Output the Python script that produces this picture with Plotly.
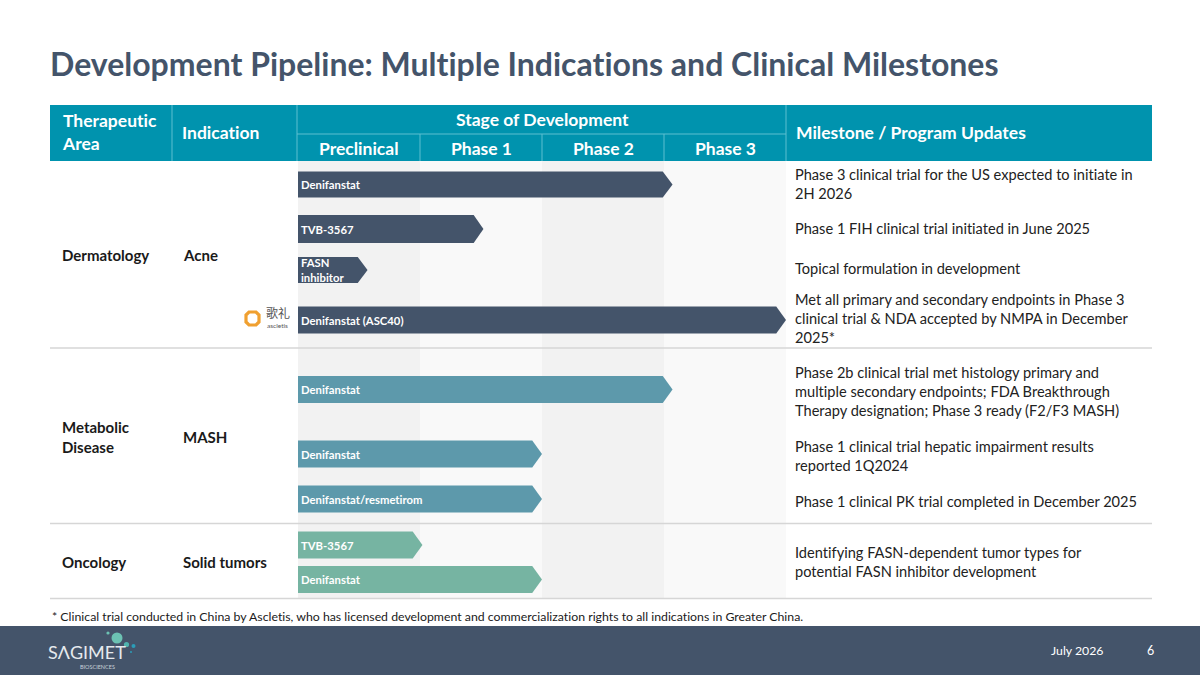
import plotly.graph_objects as go

# ---- data ----
STAGES = ["Preclinical", "Phase 1", "Phase 2", "Phase 3"]
AREAS = ["Dermatology", "Metabolic<br>Disease", "Oncology"]
INDICATIONS = ["Acne", "MASH", "Solid tumors"]
PROGRAMS = ["Denifanstat", "TVB-3567", "FASN<br>inhibitor", "Denifanstat (ASC40)",
            "Denifanstat", "Denifanstat", "Denifanstat/resmetirom",
            "TVB-3567", "Denifanstat"]
PROGRAM_AREA = [0, 0, 0, 0, 1, 1, 1, 2, 2]
# how far each program reaches, in stage units (0 = start of preclinical, 4 = end of phase 3)
PROGRESS = [3.07, 1.52, 0.57, 4.0, 3.07, 2.0, 2.0, 1.02, 2.0]
MILESTONES = [
    "Phase 3 clinical trial for the US expected to initiate in<br>2H 2026",
    "Phase 1 FIH clinical trial initiated in June 2025",
    "Topical formulation in development",
    "Met all primary and secondary endpoints in Phase 3<br>clinical trial & NDA accepted by NMPA in December<br>2025*",
    "Phase 2b clinical trial met histology primary and<br>multiple secondary endpoints; FDA Breakthrough<br>Therapy designation; Phase 3 ready (F2/F3 MASH)",
    "Phase 1 clinical trial hepatic impairment results<br>reported 1Q2024",
    "Phase 1 clinical PK trial completed in December 2025",
    "Identifying FASN-dependent tumor types for<br>potential FASN inhibitor development",
]
TITLE = "Development Pipeline: Multiple Indications and Clinical Milestones"
FOOTNOTE = ("* Clinical trial conducted in China by Ascletis, who has licensed development "
            "and commercialization rights to all indications in Greater China.")
DATE_LABEL = "July 2026"
PAGE_NO = "6"

# ---- layout (pixels on the 1200x675 slide) ----
W, H = 1200, 675
FONT = "Lato"
SLATE = "#44546A"
TEAL = "#0093AE"
TEAL_LINE = "#5CBFD0"
AREA_COLORS = ["#44546A", "#5D99AB", "#76B4A2"]
GRID_L, GRID_R = 298, 786          # stage columns span
TBL_L, TBL_R = 50, 1152
HDR_T, HDR_M, HDR_B = 105, 134, 161
BODY_B = 598.5
COL_TA, COL_IND = 172, 297
BAR_Y = [184.5, 229, 270, 320, 389.5, 454, 499, 545, 579.5]
BAR_H = [26, 28, 26, 27, 27, 27, 27, 27, 27]
MILE_Y = [184, 228, 268, 318.5, 391.3, 455.7, 501, 561.7]
AREA_Y = [255, 436.5, 562]
SEP_Y = [348, 523.5, BODY_B]
TIP = 0.08  # chevron point depth in stage units

# "x" is a pixel axis across the slide, "x2" is the stage axis over the phase columns
PX, STG = "x", "x2"

fig = go.Figure()
shapes = []
ann = []


def px_rect(x0, y0, x1, y1, color):
    shapes.append(dict(type="rect", xref=PX, yref="y", x0=x0, y0=y0, x1=x1, y1=y1,
                       fillcolor=color, line=dict(width=0), layer="below"))


def px_line(x0, y0, x1, y1, color, width=1):
    shapes.append(dict(type="line", xref=PX, yref="y", x0=x0, y0=y0, x1=x1, y1=y1,
                       line=dict(color=color, width=width), layer="above"))


def text(x, y, s, size=14, color="#1a1a1a", bold=False, xanchor="left", xref=PX, **kw):
    if bold:
        s = "<b>" + s + "</b>"
    ann.append(dict(x=x, y=y, xref=xref, yref="y", text=s, showarrow=False,
                    xanchor=xanchor, yanchor="middle", align="left",
                    font=dict(family=FONT, size=size, color=color), **kw))


# stage column shading in the body
for i, st in enumerate(STAGES):
    shapes.append(dict(type="rect", xref=STG, yref="y", x0=i, x1=i + 1, y0=HDR_B, y1=BODY_B,
                       fillcolor="#F2F2F2" if i % 2 == 0 else "#F9F9F9",
                       line=dict(width=0), layer="below"))

# header band
px_rect(TBL_L, HDR_T, TBL_R, HDR_B, TEAL)
px_line(COL_TA, HDR_T, COL_TA, HDR_B, TEAL_LINE)
px_line(COL_IND, HDR_T, COL_IND, HDR_B, TEAL_LINE)
px_line(GRID_R, HDR_T, GRID_R, HDR_B, TEAL_LINE)
px_line(COL_IND, HDR_M, GRID_R, HDR_M, TEAL_LINE)
for i in range(1, len(STAGES)):
    shapes.append(dict(type="line", xref=STG, yref="y", x0=i, x1=i, y0=HDR_M, y1=HDR_B,
                       line=dict(color=TEAL_LINE, width=1)))
for i, st in enumerate(STAGES):
    text(i + 0.5, (HDR_M + HDR_B) / 2 + 0.5, st, size=17.5, color="white", bold=True,
         xanchor="center", xref=STG)
text(60, 132, "Therapeutic<br>Area", size=17.5, color="white", bold=True)
text(180, 132, "Indication", size=17.5, color="white", bold=True)
text((GRID_L + GRID_R) / 2, 119.5, "Stage of Development", size=17.5, color="white",
     bold=True, xanchor="center")
text(794, 132, "Milestone / Program Updates", size=17.5, color="white", bold=True)

# row separators
for y in SEP_Y:
    px_line(TBL_L, y, TBL_R, y, "#D6D6D6", 1.5)

# area / indication labels
for a, ind, y in zip(AREAS, INDICATIONS, AREA_Y):
    text(60, y, a, size=15, bold=True)
    text(181, y, ind, size=15, bold=True)

# pipeline chevrons
for name, area, end, yc, h in zip(PROGRAMS, PROGRAM_AREA, PROGRESS, BAR_Y, BAR_H):
    top, bot = yc - h / 2, yc + h / 2
    fig.add_trace(go.Scatter(
        x=[0, end - TIP, end, end - TIP, 0, 0],
        y=[top, top, yc, bot, bot, top],
        xaxis=STG, yaxis="y", mode="lines", fill="toself",
        fillcolor=AREA_COLORS[area], line=dict(width=0),
        hoverinfo="skip", showlegend=False))
    ann.append(dict(x=0, y=yc, xref=STG, yref="y", text="<b>" + name + "</b>",
                    showarrow=False, xanchor="left", yanchor="middle", align="left",
                    xshift=1, font=dict(family=FONT, size=11.3, color="white")))

# milestone notes
for m, y in zip(MILESTONES, MILE_Y):
    text(793, y, m, size=14.6, color="#222222")

# ascletis partner mark
shapes.append(dict(type="path", xref=PX, yref="y",
                   path="M 249 312 L 256 312 L 259 315 L 259 322 L 256 325 L 249 325 "
                        "L 246 322 L 246 315 Z",
                   line=dict(color="#F0A030", width=3.2), fillcolor="white", layer="above"))
ann.append(dict(x=264, y=312.5, xref=PX, yref="y", text="歌礼", showarrow=False,
                xanchor="left", yanchor="middle",
                font=dict(family="Noto Sans CJK SC", size=12, color="#555555")))
ann.append(dict(x=265, y=325, xref=PX, yref="y", text="ascletis", showarrow=False,
                xanchor="left", yanchor="middle",
                font=dict(family=FONT, size=6.5, color="#555555")))

# title, footnote
text(48, 63, TITLE, size=32, color=SLATE, bold=True)
text(50, 616, FOOTNOTE, size=12.3, color="#1a1a1a")

# footer band
px_rect(0, 626, W, H, SLATE)
text(1049, 650, DATE_LABEL, size=12.3, color="white")
text(1150, 650, PAGE_NO, size=12.5, color="white", xanchor="center")
text(46, 652, "SΛGIMET", size=18, color="#E6EAEE")
text(78, 667, "BIOSCIENCES", size=5.5, color="#C9D2DA")
for cx, cy, r, c in [(117, 638, 5.5, "#6CC2B3"), (108, 633, 1.6, "#6CC2B3"),
                     (126.5, 644.5, 2.6, "#4FB3AE"), (133.5, 646, 2, "#2B9DB8"),
                     (131, 652, 1, "#2B9DB8")]:
    shapes.append(dict(type="circle", xref=PX, yref="y", x0=cx - r, x1=cx + r,
                       y0=cy - r, y1=cy + r, fillcolor=c, line=dict(width=0),
                       layer="above"))

fig.update_layout(
    width=W, height=H, margin=dict(l=0, r=0, t=0, b=0),
    paper_bgcolor="white", plot_bgcolor="rgba(0,0,0,0)",
    xaxis=dict(domain=[0, 1], range=[0, W], visible=False, fixedrange=True, anchor="y"),
    xaxis2=dict(domain=[GRID_L / W, GRID_R / W], range=[0, len(STAGES)], visible=False,
                fixedrange=True, anchor="y"),
    yaxis=dict(domain=[0, 1], range=[H, 0], visible=False, fixedrange=True, anchor="x"),
    shapes=shapes, annotations=ann, showlegend=False,
)

# page without body margin, and no "ti" ligatures from Lato
fig.write_html("out.html", config={"displayModeBar": False},
               post_script="document.body.style.margin='0';"
                           "var s=document.createElement('style');"
                           "s.textContent='svg text{font-variant-ligatures:none !important;}';"
                           "document.head.appendChild(s);")
